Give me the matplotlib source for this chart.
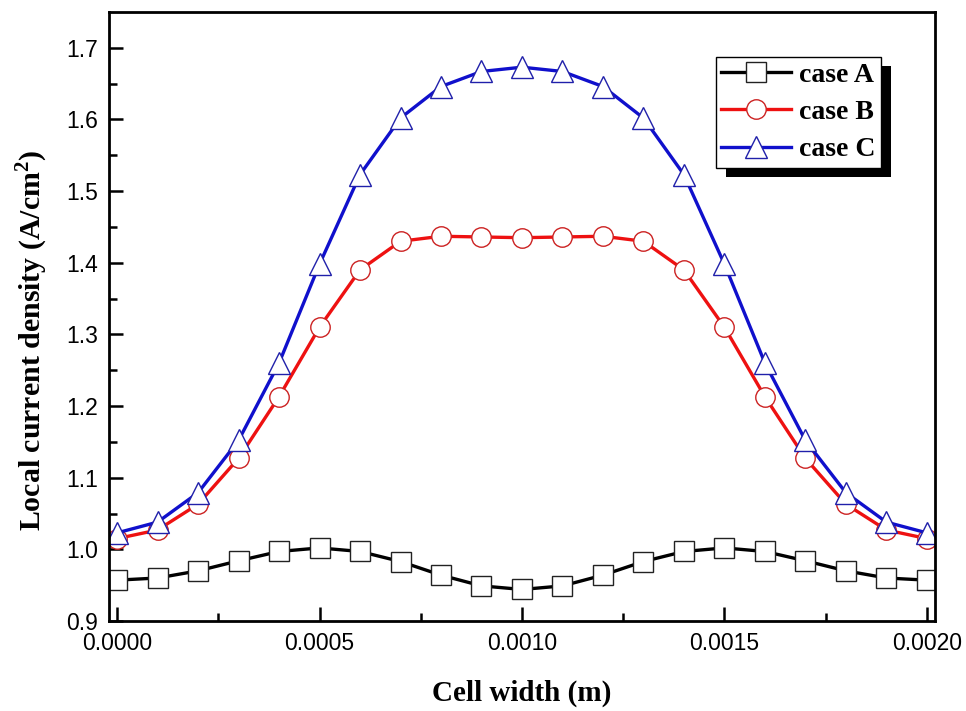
import numpy as np
import matplotlib
matplotlib.use('Agg')
import matplotlib.pyplot as plt
from matplotlib.patches import Rectangle

plt.rcParams['mathtext.fontset'] = 'custom'
plt.rcParams['mathtext.rm'] = 'Liberation Serif'
plt.rcParams['mathtext.bf'] = 'Liberation Serif:bold'

# cell width positions (m)
x = np.arange(21) * 0.0001

case_a = [0.957, 0.960, 0.970, 0.984, 0.997, 1.002, 0.997, 0.983, 0.964, 0.949, 0.944,
          0.949, 0.964, 0.983, 0.997, 1.002, 0.997, 0.984, 0.970, 0.960, 0.957]
case_b = [1.015, 1.027, 1.063, 1.127, 1.213, 1.310, 1.390, 1.430, 1.437, 1.436, 1.435,
          1.436, 1.437, 1.430, 1.390, 1.310, 1.213, 1.127, 1.063, 1.027, 1.015]
case_c = [1.023, 1.038, 1.079, 1.152, 1.260, 1.398, 1.523, 1.602, 1.646, 1.667, 1.673,
          1.667, 1.646, 1.602, 1.523, 1.398, 1.260, 1.152, 1.079, 1.038, 1.023]
labels = ['case A', 'case B', 'case C']

fig = plt.figure(figsize=(9.66, 7.11), dpi=100)
ax = fig.add_axes([0.1128, 0.1266, 0.8551, 0.8565])

style = dict(lw=2.4, markerfacecolor='white', markeredgewidth=1.0)
ax.plot(x, case_a, color='black', marker='s', markersize=14, markeredgecolor='#222222',
        label=labels[0], **style)
ax.plot(x, case_b, color='#ee1111', marker='o', markersize=14, markeredgecolor='#cc2222',
        label=labels[1], **style)
ax.plot(x, case_c, color='#1010cc', marker='^', markersize=16, markeredgecolor='#2020aa',
        label=labels[2], **style)

ax.set_xlim(-0.00002, 0.00202)
ax.set_ylim(0.9, 1.75)
ax.set_xticks(np.arange(0, 0.00201, 0.0005))
ax.set_xticks(np.arange(0.00025, 0.002, 0.0005), minor=True)
ax.set_xticklabels(['0.0000', '0.0005', '0.0010', '0.0015', '0.0020'])
ax.set_yticks(np.arange(0.9, 1.71, 0.1))
ax.set_yticks(np.arange(0.95, 1.71, 0.1), minor=True)
ax.set_yticklabels(['%.1f' % v for v in np.arange(0.9, 1.71, 0.1)])

ax.tick_params(which='both', direction='in', width=1.8, labelsize=16.5, pad=8)
ax.tick_params(which='major', length=10)
ax.tick_params(which='minor', length=6)
for lab in ax.get_xticklabels() + ax.get_yticklabels():
    lab.set_fontfamily('Liberation Sans')
for s in ax.spines.values():
    s.set_linewidth(2)

ax.set_xlabel('Cell width (m)', fontsize=21, fontweight='bold',
              family='Liberation Serif', labelpad=18)
ax.set_ylabel(r'Local current density (A/cm$^{\mathbf{2}}$)', fontsize=21.5,
              fontweight='bold', family='Liberation Serif')
ax.yaxis.set_label_coords(-0.071, 0.461)

leg = ax.legend(loc='upper right', bbox_to_anchor=(0.9346, 0.926), borderaxespad=0,
                prop={'family': 'Liberation Serif', 'weight': 'bold', 'size': 20},
                fancybox=False, edgecolor='black', framealpha=1, handlelength=2.5,
                handletextpad=0.3, labelspacing=0.42, borderpad=0.2)
leg.get_frame().set_linewidth(1.0)
leg.set_zorder(20)

# black drop shadow behind the legend box
fig.canvas.draw()
bb = leg.get_window_extent().transformed(fig.transFigure.inverted())
shadow = Rectangle((bb.x0 + 10 / 966, bb.y0 - 9 / 711), bb.width, bb.height,
                   transform=fig.transFigure, facecolor='black', edgecolor='none', zorder=15)
ax.add_artist(shadow)
shadow.set_clip_on(False)

fig.savefig('out.png', dpi=100)
